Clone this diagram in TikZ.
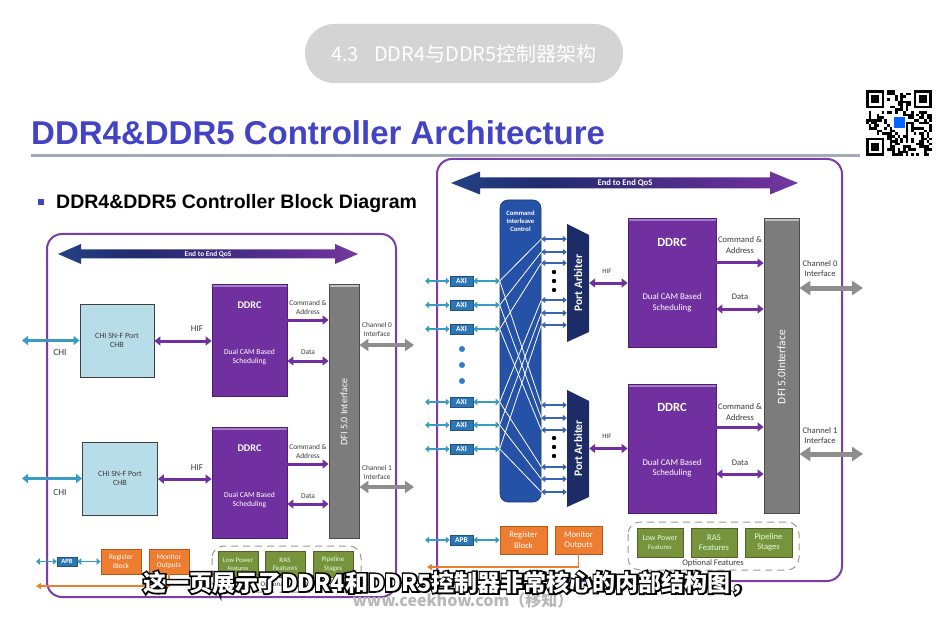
\documentclass[tikz,border=0pt]{standalone}
\usepackage{fontspec}
\setmainfont{Carlito}
\newfontfamily\arialf{Liberation Sans}
\newfontfamily\cjk{Noto Sans CJK SC}
\newfontfamily\cjkfat{Noto Sans CJK SC}[FakeBold=14]
\usetikzlibrary{arrows.meta,calc}
\definecolor{titleblue}{HTML}{4343C6}
\definecolor{ddrcpurple}{HTML}{7030A0}
\definecolor{ddrcdark}{HTML}{4B1E6E}
\definecolor{ddrclight}{HTML}{A57CC6}
\definecolor{dfigray}{HTML}{7C7C7C}
\definecolor{chiblue}{HTML}{B7DEE8}
\definecolor{tealc}{HTML}{3A9CC2}
\definecolor{orangec}{HTML}{ED7D31}
\definecolor{orangedark}{HTML}{B8561A}
\definecolor{greenc}{HTML}{77933C}
\definecolor{greendark}{HTML}{4F6228}
\definecolor{apbblue}{HTML}{2E75B6}
\definecolor{cicblue}{HTML}{2552A6}
\definecolor{panavy}{HTML}{1C2C66}
\definecolor{arrowblue}{HTML}{3A63B0}
\definecolor{chgray}{HTML}{8E8E8E}
\definecolor{framepurple}{HTML}{7A3FA6}
\definecolor{pillgray}{HTML}{D4D4D4}
\definecolor{rulegray}{HTML}{A3AAB8}
\definecolor{lblc}{HTML}{3A3A3A}
\definecolor{qosA}{HTML}{2F6EBA}
\definecolor{qosB}{HTML}{1F2B6C}
\definecolor{qosC}{HTML}{6B2F9A}
\definecolor{qosD}{HTML}{8E8A98}
\pgfdeclarehorizontalshading{qosshade}{100bp}{color(0bp)=(qosA); color(38bp)=(qosB); color(70bp)=(qosC); color(100bp)=(qosD)}
\newcommand\qrfinder[2]{%
  \fill[white] (#1-2.64,#2-2.64) rectangle ++(23.76,23.76);
  \fill[black] (#1,#2) rectangle ++(18.48,18.48);
  \fill[white] (#1+2.64,#2+2.64) rectangle ++(13.2,13.2);
  \fill[black] (#1+5.28,#2+5.28) rectangle ++(7.92,7.92);}
\newcommand\outltext[1]{%
  \makebox[0pt][l]{\cjkfat\bfseries\textcolor{black}{#1}}%
  \textcolor{white}{#1}}
\tikzset{
  chibox/.style={draw=black!75, fill=chiblue, line width=0.8pt, align=center, inner sep=0, text=lblc, font=\fontsize{8}{9.5}\selectfont},
  ddrcbox/.style={draw=ddrcdark, fill=ddrcpurple, line width=0.8pt, inner sep=0,
    path picture={\draw[ddrclight, line width=1.2pt] ([yshift=-2pt]path picture bounding box.north west) -- ([yshift=-2pt]path picture bounding box.north east);}},
  dfibox/.style={draw=black!70, fill=dfigray, line width=0.8pt, inner sep=0,
    path picture={\draw[black!25, line width=1.2pt] ([yshift=-2pt]path picture bounding box.north west) -- ([yshift=-2pt]path picture bounding box.north east);}},
  orbox/.style={draw=orangedark, fill=orangec, text=white, align=center, line width=0.8pt, inner sep=0},
  grbox/.style={draw=greendark, fill=greenc, text=white!88!green, align=center, line width=0.8pt, inner sep=0},
  axibox/.style={fill=apbblue, draw=apbblue!70!black, line width=0.5pt, text=white, inner sep=0},
  whitetxt/.style={text=white, align=center, inner sep=0},
  lblL/.style={text=lblc, font=\fontsize{7.3}{9}\selectfont, align=center, inner sep=0},
  lblR/.style={text=lblc, font=\fontsize{8.6}{10.2}\selectfont, align=center, inner sep=0},
  tealarr/.style={tealc, line width=2pt, {Triangle[length=4pt,width=6.5pt]}-{Triangle[length=4pt,width=6.5pt]}},
  chiarr/.style={tealc, line width=3pt, {Triangle[length=6pt,width=9pt]}-{Triangle[length=6pt,width=9pt]}},
  purpdbl/.style={ddrcpurple, line width=3pt, {Triangle[length=6pt,width=9pt]}-{Triangle[length=6pt,width=9pt]}},
  purpone/.style={ddrcpurple, line width=3pt, -{Triangle[length=6pt,width=9pt]}},
  grayarr/.style={chgray, line width=4.5pt, {Triangle[length=9pt,width=12pt]}-{Triangle[length=9pt,width=12pt]}},
  bluesm/.style={arrowblue, line width=1.8pt, {Triangle[length=4pt,width=6pt]}-{Triangle[length=4pt,width=6pt]}},
  orarr/.style={orangec, line width=1.6pt, -{Triangle[length=5pt,width=6pt]}},
  framebox/.style={framepurple, line width=2pt, rounded corners=15pt},
  optbox/.style={black!40, line width=1pt, dash pattern=on 7pt off 5pt, rounded corners=12pt},
}
\begin{document}
\begin{tikzpicture}[x=1pt,y=-1pt]
\useasboundingbox (0,0) rectangle (939,620);
\fill[white] (0,0) rectangle (939,620);

% ---------------- header ----------------
\node[fill=pillgray, rounded corners=29pt, minimum width=318pt, minimum height=59pt, inner sep=0] (pill) at (464,53.5) {};
\node[text=white, font=\cjk\fontsize{20}{20}\selectfont, inner sep=0] (pilltxt) at (pill.center) {4.3\hspace{15pt}DDR4与DDR5控制器架构};

\node[anchor=base west, inner sep=0, text=titleblue, font=\arialf\bfseries\fontsize{33}{33}\selectfont] (title) at (31,145) {DDR4\&DDR5 Controller Architecture};
\draw[rulegray, line width=3pt] (31,156) -- (860,156);

\fill[titleblue] (38,199) rectangle (44,205);
\node[anchor=base west, inner sep=0, font=\arialf\bfseries\fontsize{19.5}{20}\selectfont] (subhead) at (56,209) {DDR4\&DDR5 Controller Block Diagram};

% ---------------- QR code ----------------
\begin{scope}[shift={(866,90)}]
  \clip (0,0) rectangle (66,66);
  \pgfmathsetseed{42}
  \foreach \i in {0,...,24}{\foreach \j in {0,...,24}{%
    \pgfmathtruncatemacro\bit{rnd<0.5}%
    \ifnum\bit=1 \fill[black] (\i*2.64,\j*2.64) rectangle ++(2.64,2.64);\fi}}
  \qrfinder{0}{0}
  \qrfinder{47.52}{0}
  \qrfinder{0}{47.52}
  \fill[white] (26,26) rectangle (40,40);
  \fill[blue!60!cyan] (27.5,27.5) rectangle (38.5,38.5);
\end{scope}

% ================= LEFT DIAGRAM =================
\draw[framebox] (47,234) rectangle (396,597);
\shade[shading=qosshade] (58,254) -- (81,244) -- (81,249.5) -- (335,249.5) -- (335,244) -- (358,254) -- (335,264) -- (335,258.5) -- (81,258.5) -- (81,264) -- cycle;
\node[whitetxt, font=\bfseries\fontsize{7.3}{8}\selectfont] (qosLt) at (208,254) {End to End QoS};

\node[chibox, minimum width=74pt, minimum height=73pt] (chiA) at (117,340.5) {CHI SN-F Port\\CHB};
\node[chibox, minimum width=75pt, minimum height=73pt] (chiB) at (120,478.5) {CHI SN-F Port\\CHB};
\node[ddrcbox, minimum width=75pt, minimum height=112pt] (ddrcA) at (249.5,340) {};
\node[ddrcbox, minimum width=75pt, minimum height=111pt] (ddrcB) at (249.5,482.5) {};
\node[whitetxt, font=\bfseries\fontsize{10.2}{11}\selectfont] (ddrcAt) at (249.5,305) {DDRC};
\node[whitetxt, font=\fontsize{7.6}{9}\selectfont] (ddrcAs) at (249.5,357) {Dual CAM Based\\Scheduling};
\node[whitetxt, font=\bfseries\fontsize{10.2}{11}\selectfont] (ddrcBt) at (249.5,448) {DDRC};
\node[whitetxt, font=\fontsize{7.6}{9}\selectfont] (ddrcBs) at (249.5,500) {Dual CAM Based\\Scheduling};
\node[dfibox, minimum width=30pt, minimum height=254pt] (dfiL) at (344,411) {};
\node[whitetxt, rotate=90, font=\fontsize{10}{11}\selectfont] (dfiLt) at (344,412) {DFI 5.0 Interface};

\coordinate (chiAin) at (22,340.5);
\coordinate (chiBin) at (22,478.5);
\draw[chiarr] (chiAin) -- (chiA.west);
\draw[chiarr] (chiBin) -- (chiB.west);
\node[lblL, font=\fontsize{9.4}{10}\selectfont] (chiAl) at (60,352) {CHI};
\node[lblL, font=\fontsize{9.4}{10}\selectfont] (chiBl) at (60,492) {CHI};
\draw[purpdbl] (chiA.east |- 0,341) -- (ddrcA.west |- 0,341);
\draw[purpdbl] (chiB.east |- 0,479) -- (ddrcB.west |- 0,479);
\node[lblL, font=\fontsize{9}{10}\selectfont] (hifAl) at (197,329) {HIF};
\node[lblL, font=\fontsize{9}{10}\selectfont] (hifBl) at (197,468) {HIF};

\draw[purpone] (ddrcA.east |- 0,320) -- (dfiL.west |- 0,320);
\draw[purpdbl] (ddrcA.east |- 0,361) -- (dfiL.west |- 0,361);
\draw[purpone] (ddrcB.east |- 0,464) -- (dfiL.west |- 0,464);
\draw[purpdbl] (ddrcB.east |- 0,504) -- (dfiL.west |- 0,504);
\node[lblL] (cmdAl) at (308,307.5) {Command \&\\Address};
\node[lblL] (datAl) at (308,352) {Data};
\node[lblL] (cmdBl) at (308,451.5) {Command \&\\Address};
\node[lblL] (datBl) at (308,496) {Data};

\coordinate (chL0) at (414,345);
\coordinate (chL1) at (414,487);
\draw[grayarr] (dfiL.east |- chL0) -- (chL0);
\draw[grayarr] (dfiL.east |- chL1) -- (chL1);
\node[lblL] (ch0Ll) at (377,329) {Channel 0\\Interface};
\node[lblL] (ch1Ll) at (377,472) {Channel 1\\Interface};

% bottom row left
\node[axibox, minimum width=20pt, minimum height=9pt, font=\bfseries\fontsize{6.5}{7}\selectfont] (apbL) at (67,561.5) {APB};
\node[orbox, minimum width=40pt, minimum height=25pt, font=\fontsize{7.3}{8.6}\selectfont] (regL) at (121,561.5) {Register\\Block};
\node[orbox, minimum width=40pt, minimum height=25pt, font=\fontsize{7.3}{8.6}\selectfont] (monL) at (169,561.5) {Monitor\\Outputs};
\coordinate (apbLin) at (36,561.5);
\draw[tealarr, line width=1.6pt] (apbLin) -- (apbL.west);
\draw[tealarr, line width=1.6pt] (apbL.east) -- (regL.west);
\draw[optbox] (212,546) rectangle (361,592);
\node[grbox, minimum width=40pt, minimum height=26pt, font=\fontsize{6.8}{8}\selectfont] (lpL) at (238,564) {Low Power\\{\fontsize{6}{7}\selectfont Features}};
\node[grbox, minimum width=40pt, minimum height=26pt, font=\fontsize{7}{8.4}\selectfont] (rasL) at (285,564) {RAS\\Features};
\node[grbox, minimum width=40pt, minimum height=26pt, font=\fontsize{7}{8.4}\selectfont] (pipL) at (333,564) {Pipeline\\Stages};
\node[lblL, font=\fontsize{7}{8}\selectfont] (optLt) at (286,585) {Optional Features};
\coordinate (monLc) at (169,586);
\coordinate (orLend) at (36,586);
\draw[orarr] (monL.south) -- (monLc) -- (orLend);

% ================= RIGHT DIAGRAM =================
\draw[framebox] (437,159) rectangle (842,581);
\shade[shading=qosshade] (451,183) -- (480,171.5) -- (480,177.5) -- (770,177.5) -- (770,171.5) -- (798,183) -- (770,194.5) -- (770,188.5) -- (480,188.5) -- (480,194.5) -- cycle;
\node[whitetxt, font=\bfseries\fontsize{8.6}{9}\selectfont] (qosRt) at (625,183) {End to End QoS};

% command interleave control
\node[fill=cicblue, draw=cicblue!70!black, line width=0.6pt, rounded corners=8pt, minimum width=41pt, minimum height=302pt, inner sep=0] (cic) at (520.5,351) {};
\node[whitetxt, font=\bfseries\fontsize{6.6}{8}\selectfont] (cict) at (520.5,221.5) {Command\\Interleave\\Control};

% AXI ports
\foreach \n/\yy in {1/281,2/305,3/329,4/402,5/425,6/449}{
  \node[axibox, minimum width=23pt, minimum height=10pt, font=\bfseries\fontsize{7.5}{8}\selectfont] (axi\n) at (461.5,\yy) {AXI};
  \coordinate (axiin\n) at (425,\yy);
  \draw[tealarr] (axiin\n) -- (axi\n.west);
  \draw[tealarr] (axi\n.east) -- (cic.west |- axi\n);
}
\foreach \n/\yy in {1/349,2/365,3/381}{
  \fill[tealc!80!blue] (462,\yy) circle (3);
}
\node[axibox, minimum width=23pt, minimum height=10pt, font=\bfseries\fontsize{7.5}{8}\selectfont] (apbR) at (461.5,540) {APB};
\coordinate (apbRin) at (425,540);

% crossbar lines
\foreach \n/\ya/\yb in {1/239/405,2/252/418,3/263/430,4/300/467,5/313/479,6/325/492}{
  \draw[white, line width=0.8pt] (cic.west |- axi\n) -- (cic.east |- 0,\ya);
  \draw[white, line width=0.8pt] (cic.west |- axi\n) -- (cic.east |- 0,\yb);
}

% port arbiters
\node[minimum width=22pt, minimum height=118pt, inner sep=0] (paA) at (578,283) {};
\node[minimum width=22pt, minimum height=118pt, inner sep=0] (paB) at (578,448.5) {};
\fill[panavy] (567,224) -- (589,235) -- (589,332) -- (567,342) -- cycle;
\fill[panavy] (567,390) -- (589,401) -- (589,497) -- (567,507) -- cycle;
\node[whitetxt, rotate=90, font=\bfseries\fontsize{11.5}{12}\selectfont] (paAt) at (paA.center) {Port Arbiter};
\node[whitetxt, rotate=90, font=\bfseries\fontsize{11.5}{12}\selectfont] (paBt) at (paB.center) {Port Arbiter};
\foreach \yy in {239,252,263,300,313,325,405,418,430,467,479,492}{
  \draw[bluesm] (cic.east |- 0,\yy) -- (paA.west |- 0,\yy);
}
\foreach \yy in {272,281,290,438,447,456}{
  \fill[black] (554,\yy) circle (2.2);
}

% DDRC right
\node[ddrcbox, minimum width=88pt, minimum height=129pt] (ddrcRA) at (672,282.5) {};
\node[ddrcbox, minimum width=88pt, minimum height=129pt] (ddrcRB) at (672,448.5) {};
\node[whitetxt, font=\bfseries\fontsize{12.5}{13}\selectfont] (ddrcRAt) at (672,242) {DDRC};
\node[whitetxt, font=\fontsize{8.8}{10.5}\selectfont] (ddrcRAs) at (672,302.5) {Dual CAM Based\\Scheduling};
\node[whitetxt, font=\bfseries\fontsize{12.5}{13}\selectfont] (ddrcRBt) at (672,407) {DDRC};
\node[whitetxt, font=\fontsize{8.8}{10.5}\selectfont] (ddrcRBs) at (672,468) {Dual CAM Based\\Scheduling};
\draw[purpdbl] (paA.east) -- (ddrcRA.west |- paA.east);
\draw[purpdbl] (paB.east) -- (ddrcRB.west |- paB.east);
\node[lblR, font=\fontsize{6.8}{8}\selectfont] (hifRA) at (607,271) {HIF};
\node[lblR, font=\fontsize{6.8}{8}\selectfont] (hifRB) at (607,436) {HIF};

\node[dfibox, minimum width=35pt, minimum height=295pt] (dfiR) at (781.5,365.5) {};
\node[whitetxt, rotate=90, font=\fontsize{11.5}{12}\selectfont] (dfiRt) at (781.5,367) {DFI 5.0Interface};

\draw[purpone] (ddrcRA.east |- 0,263) -- (dfiR.west |- 0,263);
\draw[purpdbl] (ddrcRA.east |- 0,309) -- (dfiR.west |- 0,309);
\draw[purpone] (ddrcRB.east |- 0,427) -- (dfiR.west |- 0,427);
\draw[purpdbl] (ddrcRB.east |- 0,474) -- (dfiR.west |- 0,474);
\node[lblR] (cmdRAl) at (740,245) {Command \&\\Address};
\node[lblR] (datRAl) at (740,297) {Data};
\node[lblR] (cmdRBl) at (740,412) {Command \&\\Address};
\node[lblR] (datRBl) at (740,463) {Data};

\coordinate (chR0) at (863,288);
\coordinate (chR1) at (863,454);
\draw[grayarr, line width=5pt, {Triangle[length=11pt,width=14pt]}-{Triangle[length=11pt,width=14pt]}] (dfiR.east |- chR0) -- (chR0);
\draw[grayarr, line width=5pt, {Triangle[length=11pt,width=14pt]}-{Triangle[length=11pt,width=14pt]}] (dfiR.east |- chR1) -- (chR1);
\node[lblR] (ch0Rl) at (820,268.5) {Channel 0\\Interface};
\node[lblR] (ch1Rl) at (820,435.5) {Channel 1\\Interface};

% bottom row right
\node[orbox, minimum width=47pt, minimum height=28pt, font=\fontsize{8.6}{10.2}\selectfont] (regR) at (523.5,540) {Register\\Block};
\node[orbox, minimum width=47pt, minimum height=28pt, font=\fontsize{8.6}{10.2}\selectfont] (monR) at (578.5,540) {Monitor\\Outputs};
\draw[tealarr] (apbRin) -- (apbR.west);
\draw[tealarr] (apbR.east) -- (regR.west);
\coordinate (monRc) at (578.5,567);
\coordinate (orRend) at (427,567);
\draw[orarr] (monR.south) -- (monRc) -- (orRend);

\draw[optbox] (628,522) rectangle (799,570);
\node[grbox, minimum width=46pt, minimum height=29pt, font=\fontsize{7.8}{9.2}\selectfont] (lpR) at (660,542.5) {Low Power\\{\fontsize{6.8}{8}\selectfont Features}};
\node[grbox, minimum width=46pt, minimum height=29pt, font=\fontsize{8.6}{10.2}\selectfont] (rasR) at (714,542.5) {RAS\\Features};
\node[grbox, minimum width=47pt, minimum height=29pt, font=\fontsize{8.6}{10.2}\selectfont] (pipR) at (768.5,542.5) {Pipeline\\Stages};
\node[lblR, font=\fontsize{8.5}{9}\selectfont] (optRt) at (713,563.5) {Optional Features};

% ================= watermark & subtitle =================
\node[text=black!28, font=\cjk\bfseries\fontsize{16}{16}\selectfont, inner sep=0] (wm) at (463,600) {www.ceekhow.com（移知）};
\node[font=\cjk\bfseries\fontsize{23}{23}\selectfont, inner sep=0] (subw) at (448.5,583) {\outltext{这一页展示了DDR4和DDR5控制器非常核心的内部结构图，}};
\end{tikzpicture}
\end{document}
